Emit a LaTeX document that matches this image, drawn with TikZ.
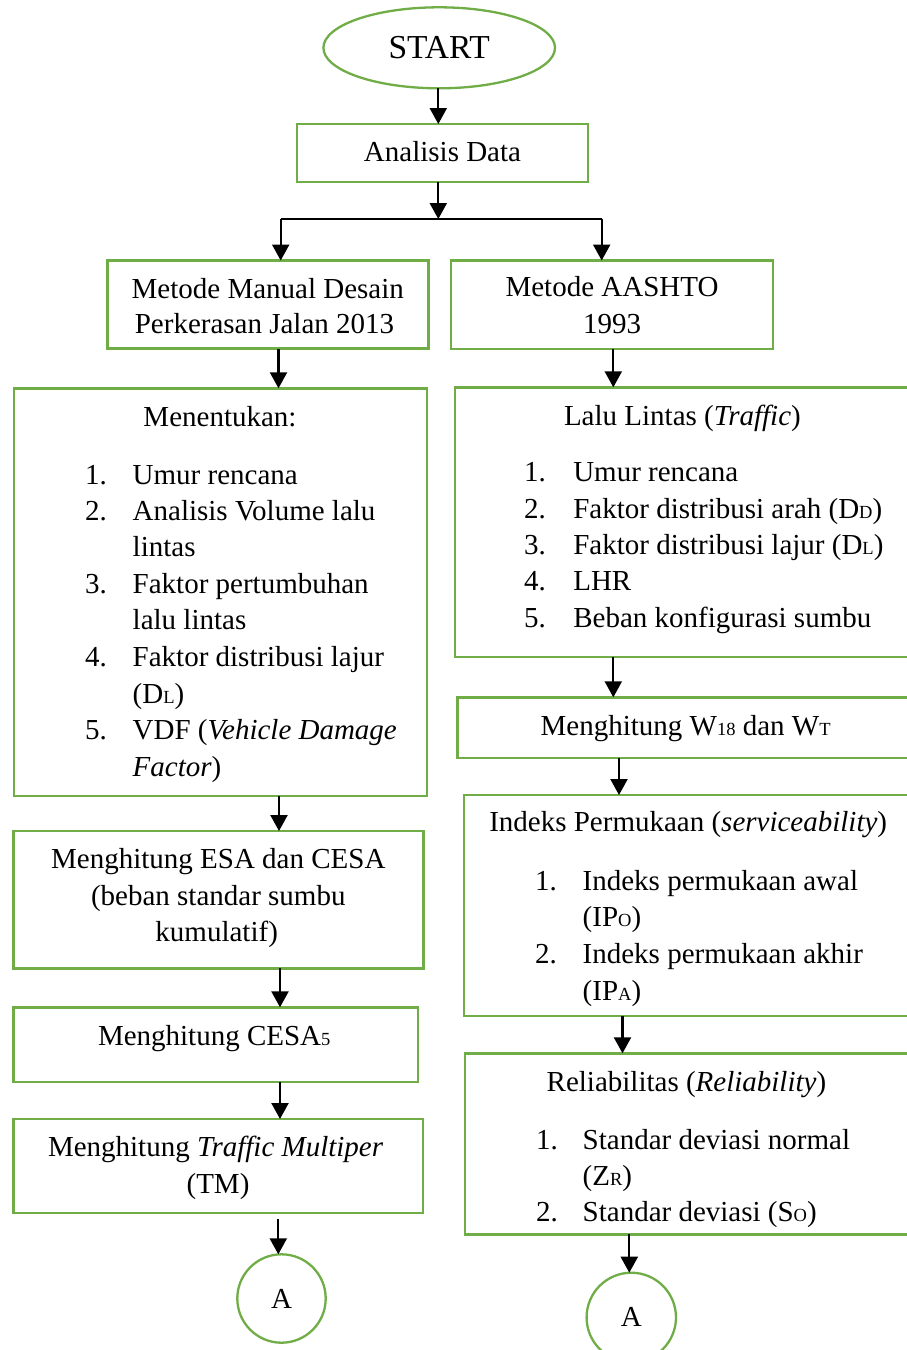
\documentclass[tikz,border=0pt]{standalone}
\usepackage{fontspec}
\setmainfont{Liberation Serif}
\usetikzlibrary{arrows.meta,shapes.geometric,fit}
\definecolor{gr}{RGB}{112,173,71}
\newcommand{\sbs}[1]{{\fontsize{18.5}{18.5}\selectfont #1}}
\begin{document}
\begin{tikzpicture}[x=1pt,y=-1pt,
  every node/.style={font=\fontsize{29}{36.5}\selectfont, inner sep=0pt, outer sep=0pt},
  box/.style={draw=gr, line width=2.4pt, rectangle, inner sep=0pt},
  arr/.style={line width=2.3pt, -{Triangle[width=17pt,length=16pt]}},
  ln/.style={line width=1.6pt},
  tl/.style={anchor=base west},
  tc/.style={anchor=base}]
\useasboundingbox (0,0) rectangle (907,1350);

% shapes
\node[draw=gr, line width=2.3pt, ellipse, minimum width=231.6pt, minimum height=81pt,
      font=\fontsize{33.5}{36}\selectfont] (start) at (439.2,47.8) {START};
\node[box, fit={(296.7,124) (588,182)}] (anal) {};
\node[box, fit={(107.3,260.5) (428.3,348.5)}] (mmd) {};
\node[box, fit={(450.7,260.5) (772.7,349)}] (aas) {};
\node[box, fit={(14,388.3) (426.7,795.7)}] (men) {};
\node[box, fit={(455,387.3) (925,656.7)}] (lalu) {};
\node[box, fit={(457.3,697.3) (925,757.7)}] (wbox) {};
\node[box, fit={(464,795) (925,1015.7)}] (ind) {};
\node[box, fit={(465,1053.3) (925,1234.3)}] (rel) {};
\node[box, fit={(13.3,831) (423.3,968.3)}] (esa) {};
\node[box, fit={(13.3,1007.3) (417.7,1081.7)}] (cesa) {};
\node[box, fit={(13.3,1119) (422.7,1213)}] (tm) {};
\node[draw=gr, line width=2.3pt, circle, minimum size=88.4pt] (A1) at (281.5,1298.5) {A};
\node[draw=gr, line width=2.3pt, circle, minimum size=89.4pt] (A2) at (631.3,1317.4) {A};

% connector x positions
\coordinate (c1) at (438.3,0);
\coordinate (sm) at (438.3,219);
\coordinate (sl) at (280.7,219);
\coordinate (sr) at (601.7,219);
\coordinate (c2) at (278.5,0);
\coordinate (c3) at (613.3,0);
\coordinate (c4) at (619,0);
\coordinate (c5) at (622.5,0);
\coordinate (c6) at (629.3,0);
\coordinate (c7) at (279,0);
\coordinate (c8) at (280,0);
\coordinate (c9) at (278.3,0);
\coordinate (tmgap) at ([yshift=-6pt]tm.south -| c9);

% connectors
\draw[arr] (start.south -| c1) -- (anal.north -| c1);
\draw[arr] (anal.south -| c1) -- (sm);
\draw[ln] (sl) -- (sr);
\draw[arr] (sl) -- (sl |- mmd.north);
\draw[arr] (sr) -- (sr |- aas.north);
\draw[arr] (mmd.south -| c2) -- (men.north -| c2);
\draw[arr] (aas.south -| c3) -- (lalu.north -| c3);
\draw[arr] (lalu.south -| c3) -- (wbox.north -| c3);
\draw[arr] (wbox.south -| c4) -- (ind.north -| c4);
\draw[arr] (ind.south -| c5) -- (rel.north -| c5);
\draw[arr] (rel.south -| c6) -- (A2.north -| c6);
\draw[arr] (men.south -| c7) -- (esa.north -| c7);
\draw[arr] (esa.south -| c8) -- (cesa.north -| c8);
\draw[arr] (cesa.south -| c8) -- (tm.north -| c8);
\draw[arr] (tmgap) -- (A1.north -| c9);

% texts
\node[tc] (tanal) at (442.5,161.7) {Analisis Data};
\node[tc] (tmmd1) at (267.8,298.3) {Metode Manual Desain};
\node[tc] (tmmd2) at (264.5,333.3) {Perkerasan Jalan 2013};
\node[tc] (taas1) at (612,296.7) {Metode AASHTO};
\node[tc] (taas2) at (612,333.3) {1993};

\node[tc] (tmen) at (220,426.7) {Menentukan:};
\node[tl] (mn1) at (85,484) {1.};
\node[tl] (mt1) at (132.7,484) {Umur rencana};
\node[tl] (mn2) at (85,520) {2.};
\node[tl] (mt2) at (132.7,520) {Analisis Volume lalu};
\node[tl] (mt2b) at (132.7,556) {lintas};
\node[tl] (mn3) at (85,593) {3.};
\node[tl] (mt3) at (132.7,593) {Faktor pertumbuhan};
\node[tl] (mt3b) at (132.7,629) {lalu lintas};
\node[tl] (mn4) at (85,666) {4.};
\node[tl] (mt4) at (132.7,666) {Faktor distribusi lajur};
\node[tl] (mt4b) at (132.7,703) {(D\sbs{L})};
\node[tl] (mn5) at (85,739) {5.};
\node[tl] (mt5) at (132.7,739) {VDF (\textit{Vehicle Damage}};
\node[tl] (mt5b) at (132.7,776) {\textit{Factor})};

\node[tl] (tlalu) at (564,425) {Lalu Lintas (\textit{Traffic})};
\node[tl] (ln1) at (524,481.7) {1.};
\node[tl] (lt1) at (573.3,481.7) {Umur rencana};
\node[tl] (ln2) at (524,518.3) {2.};
\node[tl] (lt2) at (573.3,518.3) {Faktor distribusi arah (D\sbs{D})};
\node[tl] (ln3) at (524,554.3) {3.};
\node[tl] (lt3) at (573.3,554.3) {Faktor distribusi lajur (D\sbs{L})};
\node[tl] (ln4) at (524,590.7) {4.};
\node[tl] (lt4) at (573.3,590.7) {LHR};
\node[tl] (ln5) at (524,627.3) {5.};
\node[tl] (lt5) at (573.3,627.3) {Beban konfigurasi sumbu};

\node[tl] (tw) at (540.7,735) {Menghitung W\sbs{18} dan W\sbs{T}};

\node[tl] (tind) at (489.3,831.7) {Indeks Permukaan (\textit{serviceability})};
\node[tl] (in1) at (535,890) {1.};
\node[tl] (it1) at (582.7,890) {Indeks permukaan awal};
\node[tl] (it1b) at (582.7,926.7) {(IP\sbs{O})};
\node[tl] (in2) at (535,963.3) {2.};
\node[tl] (it2) at (582.7,963.3) {Indeks permukaan akhir};
\node[tl] (it2b) at (582.7,1000) {(IP\sbs{A})};

\node[tl] (trel) at (546.7,1091.7) {Reliabilitas (\textit{Reliability})};
\node[tl] (rn1) at (536,1149) {1.};
\node[tl] (rt1) at (582.7,1149) {Standar deviasi normal};
\node[tl] (rt1b) at (582.7,1185) {(Z\sbs{R})};
\node[tl] (rn2) at (536,1221.7) {2.};
\node[tl] (rt2) at (582.7,1221.7) {Standar deviasi (S\sbs{O})};

\node[tc] (tesa1) at (218.3,868.3) {Menghitung ESA dan CESA};
\node[tc] (tesa2) at (218.3,905) {(beban standar sumbu};
\node[tc] (tesa3) at (216.7,941.7) {kumulatif)};
\node[tl] (tcesa) at (98,1045) {Menghitung CESA\sbs{5}};
\node[tl] (ttm1) at (48,1156.7) {Menghitung \textit{Traffic Multiper}};
\node[tc] (ttm2) at (218,1193) {(TM)};
\end{tikzpicture}
\end{document}
